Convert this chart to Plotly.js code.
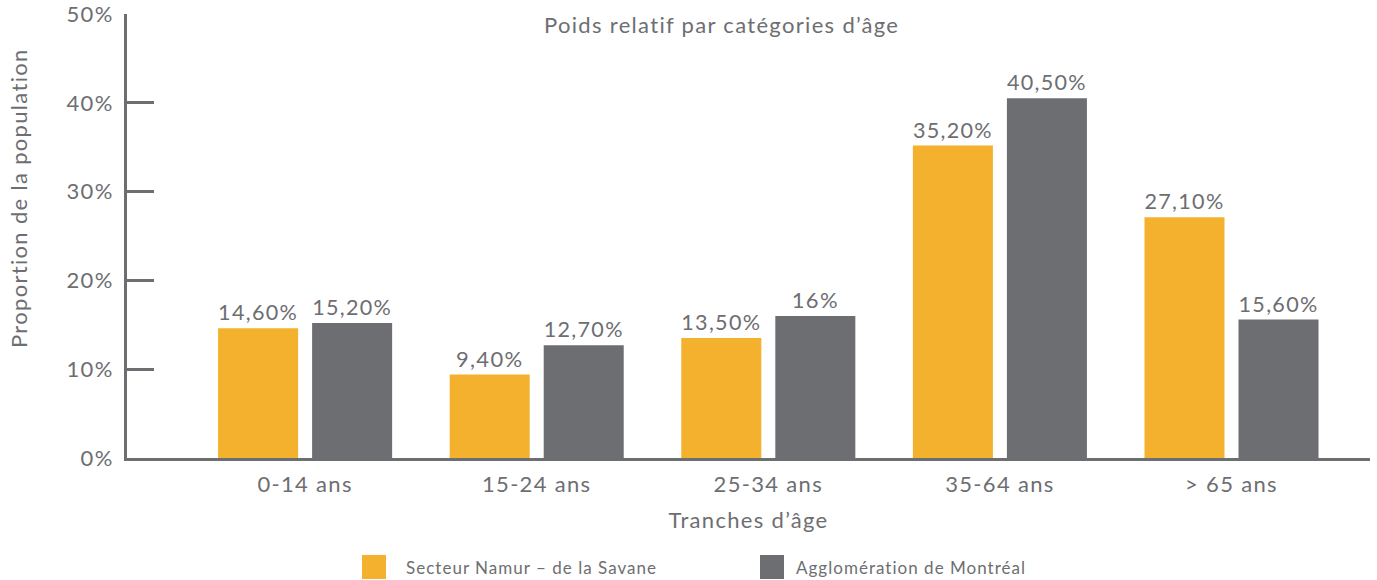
<!DOCTYPE html>
<html>
<head>
<meta charset="utf-8">
<script src="https://cdn.plot.ly/plotly-3.0.1.min.js"></script>
<style>html,body{margin:0;padding:0;background:#fff;}#chart{width:1377px;height:580px;}
text{letter-spacing:0.06em;}</style>
</head>
<body>
<div id="chart"></div>
<script>
const categories = ["0-14 ans", "15-24 ans", "25-34 ans", "35-64 ans", "> 65 ans"];
const seriesNames = ["Secteur Namur – de la Savane", "Agglomération de Montréal"];
const namurValues = [14.6, 9.4, 13.5, 35.2, 27.1];
const montrealValues = [15.2, 12.7, 16, 40.5, 15.6];
const yTickValues = [0, 10, 20, 30, 40, 50];
const chartTitle = "Poids relatif par catégories d’âge";
const xTitle = "Tranches d’âge";
const yTitle = "Proportion de la population";

const colors = ["#f4b12e", "#6d6e71"];
const textColor = "#6d6e71";
const FONT = "Lato, 'Open Sans', sans-serif";

function fmt(v) {
  if (Number.isInteger(v)) return v + "%";
  return v.toFixed(2).replace(".", ",") + "%";
}

const W = 1377, H = 580;
const mL = 127, mR = 7, mT = 14, mB = 122;
const pw = W - mL - mR, ph = H - mT - mB;
const px = x => (x - mL) / pw;
const py = y => (H - mB - y) / ph;

const traces = [namurValues, montrealValues].map((vals, i) => ({
  type: "bar",
  x: categories,
  y: vals,
  name: seriesNames[i],
  marker: {color: colors[i]},
  text: vals.map(fmt),
  textposition: "outside",
  cliponaxis: false,
  textfont: {family: FONT, size: 22, color: textColor},
  hoverinfo: "skip",
  showlegend: false
}));

const shapes = [];
const annotations = [];
const legendX = [362, 760];
const legendTextX = [404, 794];
for (let i = 0; i < 2; i++) {
  shapes.push({type: "rect", xref: "paper", yref: "paper",
    x0: px(legendX[i]), x1: px(legendX[i] + 24), y0: py(555), y1: py(579),
    fillcolor: colors[i], line: {width: 0}});
  annotations.push({xref: "paper", yref: "paper", x: px(legendTextX[i]), y: py(567),
    xanchor: "left", yanchor: "middle", showarrow: false, text: seriesNames[i],
    font: {family: FONT, size: 17, color: textColor}});
}
annotations.push({xref: "paper", yref: "paper", x: px(721), y: py(25), xanchor: "center", yanchor: "middle",
  showarrow: false, text: chartTitle, font: {family: FONT, size: 22, color: textColor}});
annotations.push({xref: "paper", yref: "paper", x: px(18), y: py(198), xanchor: "center", yanchor: "middle",
  textangle: -90, showarrow: false, text: yTitle, font: {family: FONT, size: 22, color: textColor}});

const layout = {
  width: W, height: H,
  margin: {l: mL, r: mR, t: mT, b: mB, pad: 0},
  paper_bgcolor: "#fff", plot_bgcolor: "#fff",
  separators: ",.",
  barmode: "group",
  bargap: 0.188,
  bargroupgap: 0.149,
  font: {family: FONT, color: textColor},
  xaxis: {
    range: [-0.769, 4.598],
    showline: true, linecolor: "#6d6e71", linewidth: 3,
    showgrid: false, zeroline: false, ticks: "",
    tickfont: {family: FONT, size: 22, color: textColor},
    ticklabelstandoff: 5,
    title: {text: xTitle, font: {family: FONT, size: 22, color: textColor}, standoff: 17}
  },
  yaxis: {
    range: [0, 50],
    tickvals: yTickValues,
    ticktext: yTickValues.map(v => v + "%"),
    showline: true, linecolor: "#6d6e71", linewidth: 3,
    showgrid: false, zeroline: false,
    ticks: "inside", ticklen: 27, tickwidth: 3, tickcolor: "#6d6e71",
    tickfont: {family: FONT, size: 22, color: textColor},
    ticklabelstandoff: 6,
    ticklabeloverflow: "allow"
  },
  shapes: shapes,
  annotations: annotations,
  showlegend: false
};

Plotly.newPlot("chart", traces, layout, {displayModeBar: false, staticPlot: true});
</script>
</body>
</html>
